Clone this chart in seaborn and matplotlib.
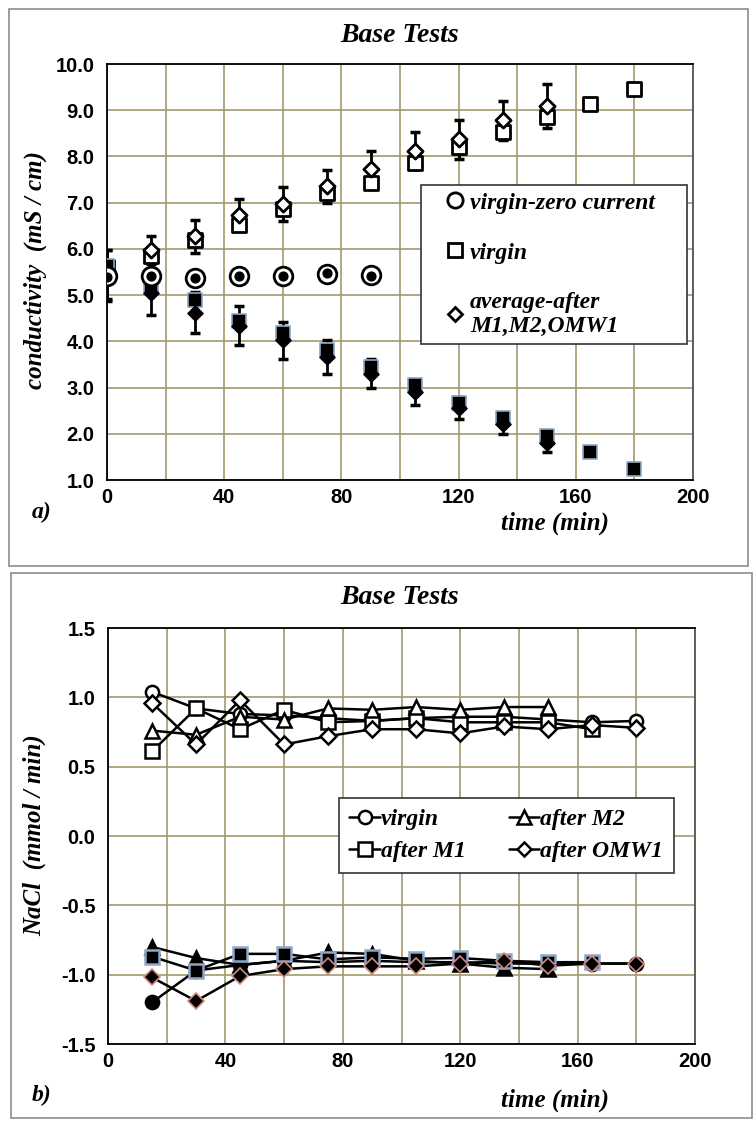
import matplotlib
matplotlib.use('Agg')
import matplotlib.pyplot as plt
import seaborn as sns
from matplotlib.lines import Line2D
from matplotlib.patches import Rectangle

# ---- panel a) conductivity (mS/cm) ----
time_a = [0, 15, 30, 45, 60, 75, 90, 105, 120, 135, 150, 165, 180]
time_zero = [0, 15, 30, 45, 60, 75, 90]
zero_current = [5.42, 5.42, 5.38, 5.41, 5.41, 5.46, 5.43]
zero_current_dot = [5.40, 5.41, 5.37, 5.41, 5.41, 5.47, 5.42]
virgin_up = [5.60, 5.85, 6.20, 6.52, 6.87, 7.21, 7.43, 7.86, 8.21, 8.52, 8.85, 9.13, 9.45]
virgin_down = [5.62, 5.18, 4.89, 4.43, 4.17, 3.81, 3.45, 3.05, 2.67, 2.35, 1.95, 1.60, 1.24]
time_avg = [0, 15, 30, 45, 60, 75, 90, 105, 120, 135, 150]
avg_up = [5.45, 5.98, 6.27, 6.74, 6.97, 7.35, 7.73, 8.12, 8.37, 8.78, 9.09]
avg_up_err = [0.53, 0.30, 0.35, 0.34, 0.37, 0.36, 0.39, 0.40, 0.42, 0.43, 0.47]
avg_down = [5.42, 5.05, 4.62, 4.34, 4.02, 3.66, 3.30, 2.90, 2.56, 2.22, 1.81]
avg_down_err = [0.55, 0.47, 0.45, 0.43, 0.40, 0.36, 0.32, 0.27, 0.24, 0.22, 0.20]

# ---- panel b) NaCl rate (mmol/min) ----
time_b = [15, 30, 45, 60, 75, 90, 105, 120, 135, 150, 165, 180]
virgin_pos = [1.04, 0.92, 0.88, 0.87, 0.85, 0.83, 0.85, 0.86, 0.86, 0.84, 0.82, 0.83]
m1_pos = [0.61, 0.92, 0.77, 0.91, 0.82, 0.83, 0.85, 0.82, 0.82, 0.82, 0.77]
m2_pos = [0.76, 0.73, 0.86, 0.84, 0.92, 0.91, 0.93, 0.91, 0.93, 0.93]
omw_pos = [0.96, 0.66, 0.98, 0.66, 0.72, 0.77, 0.77, 0.74, 0.79, 0.77, 0.80, 0.78]
virgin_neg = [-1.20, -0.97, -0.93, -0.90, -0.91, -0.90, -0.91, -0.91, -0.92, -0.92, -0.92, -0.92]
m1_neg = [-0.87, -0.97, -0.85, -0.85, -0.89, -0.875, -0.885, -0.88, -0.90, -0.91, -0.91]
m2_neg = [-0.80, -0.88, -0.93, -0.90, -0.84, -0.85, -0.90, -0.92, -0.95, -0.96]
omw_neg = [-1.02, -1.19, -1.01, -0.96, -0.94, -0.94, -0.94, -0.92, -0.90, -0.935, -0.92, -0.92]

grid_col = '#a39a6c'
serif = ['Liberation Serif', 'DejaVu Serif']
sans = ['Liberation Sans', 'DejaVu Sans']

sns.set_style('white')
plt.rcParams['font.family'] = sans
plt.rcParams['text.color'] = 'black'
plt.rcParams['xtick.color'] = 'black'
plt.rcParams['ytick.color'] = 'black'

W, H = 756, 1125
fig = plt.figure(figsize=(W / 100, H / 100), dpi=100)


def px_axes(x0, y0, x1, y1):
    return fig.add_axes([x0 / W, 1 - y1 / H, (x1 - x0) / W, (y1 - y0) / H])


def style_axes(ax, yticks, fmt):
    ax.set_xlim(0, 200)
    ax.set_xticks(range(0, 201, 20))
    ax.set_xticklabels([str(v) if v % 40 == 0 else '' for v in range(0, 201, 20)])
    ax.set_yticks(yticks)
    ax.set_yticklabels([fmt.format(v) for v in yticks])
    ax.grid(True, color=grid_col, linewidth=1.2)
    ax.set_axisbelow(True)
    for s in ax.spines.values():
        s.set_visible(True)
        s.set_color('black')
        s.set_linewidth(1.3)
    ax.spines['right'].set_color('#555555')
    ax.tick_params(axis='x', length=0, pad=6, labelcolor='black')
    ax.tick_params(axis='y', length=0, pad=9, labelcolor='black')
    for lab in ax.get_xticklabels() + ax.get_yticklabels():
        lab.set_fontweight('bold')
        lab.set_fontsize(14.5)
        lab.set_family(sans)
    ax.set_xlabel('')
    ax.set_ylabel('')


def ftext(x, y, s, size, **kw):
    fig.text(x / W, 1 - y / H, s, fontsize=size, fontweight='bold', fontstyle='italic',
             family=serif, ha='center', va='center', color='black', **kw)


# panel frames
fig.add_artist(Rectangle((9 / W, 1 - 566 / H), 739 / W, 557 / H, transform=fig.transFigure,
                         fill=False, edgecolor='#8c8c8c', linewidth=1.2))
fig.add_artist(Rectangle((11 / W, 1 - 1118 / H), 741 / W, 545 / H, transform=fig.transFigure,
                         fill=False, edgecolor='#8c8c8c', linewidth=1.2))

leg_font = {'family': serif, 'weight': 'bold', 'style': 'italic', 'size': 17}

# ---------------- panel a ----------------
ax1 = px_axes(107, 64, 693, 480)
ax1.errorbar(time_avg, avg_up, yerr=avg_up_err, fmt='none', ecolor='black', elinewidth=2,
             capsize=3.5, capthick=2.5, zorder=2)
ax1.errorbar(time_avg, avg_down, yerr=avg_down_err, fmt='none', ecolor='black', elinewidth=2,
             capsize=3.5, capthick=2.5, zorder=2)
sns.scatterplot(x=time_a, y=virgin_up, marker='s', s=90, facecolor='white', edgecolor='black',
                linewidth=2, ax=ax1, zorder=3)
sns.scatterplot(x=time_a, y=virgin_down, marker='s', s=90, color='black', edgecolor='#8fa6c6',
                linewidth=1.2, ax=ax1, zorder=3)
sns.scatterplot(x=time_avg, y=avg_up, marker='D', s=60, facecolor='white', edgecolor='black',
                linewidth=2, ax=ax1, zorder=4)
sns.scatterplot(x=time_avg, y=avg_down, marker='D', s=60, color='black', edgecolor='black',
                linewidth=1, ax=ax1, zorder=4)
sns.scatterplot(x=time_zero, y=zero_current, marker='o', s=180, facecolor='white', edgecolor='black',
                linewidth=2, ax=ax1, zorder=5)
sns.scatterplot(x=time_zero, y=zero_current_dot, marker='o', s=40, color='black', edgecolor='black',
                linewidth=1, ax=ax1, zorder=6)
ax1.set_ylim(1.0, 10.0)
style_axes(ax1, [1.0 + i for i in range(10)], '{:.1f}')

leg_a = [
    Line2D([], [], linestyle='none', marker='o', markersize=11, markerfacecolor='white',
           markeredgecolor='black', markeredgewidth=2, label='virgin-zero current'),
    Line2D([], [], linestyle='none', marker='s', markersize=10, markerfacecolor='white',
           markeredgecolor='black', markeredgewidth=2, label='virgin'),
    Line2D([], [], linestyle='none', marker='D', markersize=7, markerfacecolor='white',
           markeredgecolor='black', markeredgewidth=2, label='average-after\nM1,M2,OMW1'),
]
la = ax1.legend(handles=leg_a, loc='upper left', bbox_to_anchor=(0.536, 0.309, 0.454, 0.4),
                mode='expand', borderaxespad=0, prop=leg_font,
                frameon=True, fancybox=False, edgecolor='#333333', framealpha=1,
                labelspacing=1.2, handlelength=2.25, handletextpad=-0.48, borderpad=0.3)
la.get_frame().set_linewidth(1.2)

ftext(400, 35, 'Base Tests', 20)
ftext(35, 270, 'conductivity  (mS / cm)', 18, rotation=90)
ftext(555, 523, 'time (min)', 18)
ftext(42, 512, 'a)', 17)

# ---------------- panel b ----------------
ax2 = px_axes(108, 628, 695, 1044)
line_kw = dict(color='black', linewidth=1.8, markersize=9.5, markeredgewidth=1.8, ax=ax2)
d_kw = dict(color='black', linewidth=1.8, markersize=8, ax=ax2)
sns.lineplot(x=time_b, y=virgin_pos, marker='o', markerfacecolor='white', markeredgecolor='black', **line_kw)
sns.lineplot(x=time_b[:11], y=m1_pos, marker='s', markerfacecolor='white', markeredgecolor='black', **line_kw)
sns.lineplot(x=time_b[:10], y=m2_pos, marker='^', markerfacecolor='white', markeredgecolor='black', **line_kw)
sns.lineplot(x=time_b, y=omw_pos, marker='D', markerfacecolor='white', markeredgecolor='black',
             markeredgewidth=1.8, **d_kw)
sns.lineplot(x=time_b, y=virgin_neg, marker='o', markerfacecolor='black', markeredgecolor='black', **line_kw)
sns.lineplot(x=time_b[:10], y=m2_neg, marker='^', markerfacecolor='black', markeredgecolor='black', **line_kw)
sns.lineplot(x=time_b[:11], y=m1_neg, marker='s', markerfacecolor='black', markeredgecolor='#8fa6c6', **line_kw)
sns.lineplot(x=time_b, y=omw_neg, marker='D', markerfacecolor='black', markeredgecolor='#d08a80',
             markeredgewidth=1.2, **d_kw)
ax2.set_ylim(-1.5, 1.5)
style_axes(ax2, [-1.5, -1.0, -0.5, 0.0, 0.5, 1.0, 1.5], '{:.1f}')

mk = dict(color='black', linewidth=1.8, markerfacecolor='white', markeredgecolor='black', markeredgewidth=1.8)
leg_b = [
    Line2D([], [], marker='o', markersize=9.5, label='virgin', **mk),
    Line2D([], [], marker='s', markersize=9.5, label='after M1', **mk),
    Line2D([], [], marker='^', markersize=9.5, label='after M2', **mk),
    Line2D([], [], marker='D', markersize=7.5, label='after OMW1', **mk),
]
lb = ax2.legend(handles=leg_b, loc='upper left', bbox_to_anchor=(0.393, 0.591), ncol=2,
                borderaxespad=0, prop=leg_font,
                frameon=True, fancybox=False, edgecolor='#333333', framealpha=1,
                labelspacing=0.45, handlelength=1.3, handletextpad=0.05, columnspacing=1.8,
                borderpad=0.45)
lb.get_frame().set_linewidth(1.2)

ftext(400, 598, 'Base Tests', 20)
ftext(35, 835, 'NaCl  (mmol / min)', 18, rotation=90)
ftext(555, 1100, 'time (min)', 18)
ftext(42, 1095, 'b)', 17)

fig.savefig('out.png', dpi=100)
